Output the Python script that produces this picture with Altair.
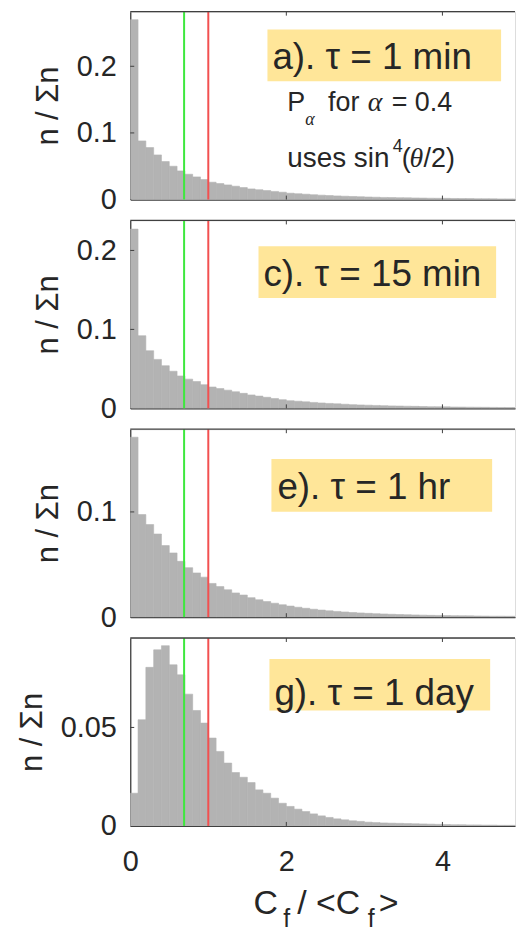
import altair as alt
import pandas as pd

# ---------------- data ----------------
BIN_W = 0.1
bin_left = [round(i * BIN_W, 1) for i in range(50)]

frac_a = [0.270, 0.088, 0.078, 0.067, 0.057, 0.050, 0.043, 0.038, 0.034, 0.030,
          0.026, 0.024, 0.022, 0.020, 0.018, 0.016, 0.0148, 0.0135, 0.0122, 0.011,
          0.0095, 0.0088, 0.008, 0.0073, 0.0066, 0.006, 0.0055, 0.005, 0.0046, 0.0042,
          0.0038, 0.0035, 0.0032, 0.003, 0.0028, 0.0026, 0.0024, 0.0022, 0.002, 0.0019,
          0.0018, 0.0016, 0.0015, 0.0014, 0.0013, 0.0012, 0.0011, 0.001, 0.001, 0.0009]
frac_c = [0.227, 0.092, 0.073, 0.062, 0.054, 0.047, 0.041, 0.037, 0.034, 0.030,
          0.027, 0.025, 0.023, 0.021, 0.019, 0.017, 0.0155, 0.014, 0.0125, 0.011,
          0.0097, 0.009, 0.0082, 0.0075, 0.0068, 0.0062, 0.0057, 0.0052, 0.0047, 0.0043,
          0.004, 0.0037, 0.0034, 0.0031, 0.0029, 0.0027, 0.0025, 0.0023, 0.0021, 0.002,
          0.0019, 0.0017, 0.0016, 0.0015, 0.0014, 0.0013, 0.0012, 0.0011, 0.001, 0.001]
frac_e = [0.171, 0.0975, 0.088, 0.079, 0.068, 0.061, 0.053, 0.047, 0.042, 0.038,
          0.032, 0.029, 0.026, 0.023, 0.021, 0.0185, 0.0165, 0.0148, 0.0132, 0.0118,
          0.0105, 0.0094, 0.0084, 0.0075, 0.0067, 0.006, 0.0054, 0.0049, 0.0044, 0.004,
          0.0036, 0.0033, 0.003, 0.0027, 0.0025, 0.0023, 0.0021, 0.0019, 0.0017, 0.0016,
          0.0015, 0.0014, 0.0013, 0.0012, 0.0011, 0.001, 0.0009, 0.0009, 0.0008, 0.0008]
frac_g = [0.0166, 0.0539, 0.0805, 0.0894, 0.0915, 0.0818, 0.0767, 0.0669, 0.0586, 0.0522,
          0.0446, 0.0378, 0.0319, 0.0271, 0.0247, 0.0220, 0.0183, 0.0166, 0.0141, 0.0115,
          0.0099, 0.0085, 0.0073, 0.0061, 0.0051, 0.0043, 0.0036, 0.0031, 0.0026, 0.0023,
          0.0019, 0.0017, 0.0015, 0.0014, 0.0013, 0.0012, 0.0011, 0.001, 0.0009, 0.0008,
          0.0007, 0.0006, 0.0006, 0.0005, 0.0005, 0.0004, 0.0004, 0.0003, 0.0003, 0.0003]

panel_labels = ["a). τ = 1 min", "c). τ = 15 min", "e). τ = 1 hr", "g). τ = 1 day"]
y_max = [0.282, 0.238, 0.1786, 0.0954]
y_ticks = [[0, 0.1, 0.2], [0, 0.1, 0.2], [0, 0.1], [0, 0.05]]
x_ticks = [0, 2, 4]
green_x = [0.69]
red_x = [1.0]

# ---------------- style ----------------
W = 387
H = 189
X_MAX = 4.93
FONT = "Liberation Sans"
SERIF = "Liberation Serif"
AX = "#404040"
TXT = "#262626"
BAR = "#b3b3b3"
YELLOW = "#FFE699"
LBL = 29

# label box geometry per panel (pixels relative to the plot area): x, x2, y, y2, text x, baseline
boxes = [(138, 373, 18, 70, 143, 58),
         (129, 368, 26, 78, 134, 66),
         (142, 364, 30, 83, 148, 70),
         (140, 362, 21, 73, 145, 67)]

xscale = alt.Scale(domain=[0, X_MAX], nice=False, zero=False)


def txt(s, x, y, size, font=FONT, style="normal", align="left"):
    return alt.Chart(pd.DataFrame({"t": [s]})).mark_text(
        align=align, baseline="alphabetic", font=font, fontSize=size,
        fontStyle=style, color=TXT, clip=False
    ).encode(x=alt.value(x), y=alt.value(y), text="t:N")


def panel(i, vals, bottom=False):
    yscale = alt.Scale(domain=[0, y_max[i]], nice=False, zero=True)
    df = pd.DataFrame({"x": bin_left, "x2": [b + BIN_W for b in bin_left],
                       "y": vals, "y0": [0.0] * len(vals)})
    if bottom:
        xaxis = alt.Axis(values=x_ticks, labelExpr="datum.value", title=None, ticks=False,
                         grid=False, labelFontSize=LBL, labelFont=FONT, labelColor=TXT,
                         labelPadding=22, labelFlush=False, domainColor=AX, domainWidth=1.3)
    else:
        xaxis = alt.Axis(labels=False, ticks=False, title=None, grid=False,
                         domainColor=AX, domainWidth=1.3)
    yaxis = alt.Axis(values=y_ticks[i], labelExpr="datum.value", title="n / Σn",
                     ticks=False, grid=False, labelFontSize=LBL, labelFont=FONT,
                     labelColor=TXT, labelPadding=14, titleFontSize=31, titleFont=FONT,
                     titleFontWeight="normal", titleColor=TXT, titlePadding=12,
                     domainColor=AX, domainWidth=1.3, labelFlush=False)
    bars = alt.Chart(df).mark_rect(color=BAR, stroke=BAR, strokeWidth=0.6, clip=True).encode(
        x=alt.X("x:Q", scale=xscale, axis=xaxis),
        x2="x2:Q",
        y=alt.Y("y:Q", scale=yscale, axis=yaxis),
        y2="y0:Q",
    )
    green = alt.Chart(pd.DataFrame({"x": green_x})).mark_rule(color="#3ee83e", strokeWidth=2).encode(
        x=alt.X("x:Q", scale=xscale))
    red = alt.Chart(pd.DataFrame({"x": red_x})).mark_rule(color="#f25050", strokeWidth=2).encode(
        x=alt.X("x:Q", scale=xscale))
    # inward tick marks (MATLAB style)
    xt = pd.DataFrame({"x": [t for t in x_ticks if t > 0]})
    tick_bot = alt.Chart(xt).mark_rule(color=AX, strokeWidth=1).encode(
        x=alt.X("x:Q", scale=xscale), y=alt.value(H), y2=alt.value(H - 4))
    tick_top = alt.Chart(xt).mark_rule(color=AX, strokeWidth=1).encode(
        x=alt.X("x:Q", scale=xscale), y=alt.value(0), y2=alt.value(4))
    yt = pd.DataFrame({"y": [t for t in y_ticks[i] if t > 0]})
    tick_left = alt.Chart(yt).mark_rule(color=AX, strokeWidth=1).encode(
        y=alt.Y("y:Q", scale=yscale), x=alt.value(0), x2=alt.value(4))
    top_border = alt.Chart(pd.DataFrame({"y": [0]})).mark_rule(color=AX, strokeWidth=1.3).encode(
        x=alt.value(0), x2=alt.value(W), y=alt.value(0))
    bx, bx2, by, by2, tx, tb = boxes[i]
    box = alt.Chart(pd.DataFrame({"y": [0]})).mark_rect(color=YELLOW).encode(
        x=alt.value(bx), x2=alt.value(bx2), y=alt.value(by), y2=alt.value(by2))
    label = txt(panel_labels[i], tx, tb, 37)
    layers = [bars, green, red, tick_bot, tick_top, tick_left, top_border, box, label]
    if i == 0:
        layers += [
            txt("P", 158, 100, 27),
            txt("α", 176, 114, 18, font=SERIF, style="italic"),
            txt("for", 199, 100, 27),
            txt("α", 239, 100, 28, font=SERIF, style="italic"),
            txt("= 0.4", 263, 100, 27),
            txt("uses sin", 158, 156, 28),
            txt("4", 264, 141, 18),
            txt("(", 273, 156, 27),
            txt("θ", 281, 156, 28, font=SERIF, style="italic"),
            txt("/2)", 295, 156, 27),
        ]
    if bottom:
        layers += [
            txt("C", 124, 278, 34),
            txt("f", 154, 291, 25),
            txt("/ <C", 168, 278, 34),
            txt("f", 239, 291, 25),
            txt(">", 250, 278, 34),
        ]
    return alt.layer(*layers).properties(width=W, height=H)


chart = alt.vconcat(
    panel(0, frac_a),
    panel(1, frac_c),
    panel(2, frac_e),
    panel(3, frac_g, bottom=True),
    spacing=3,
).properties(
    padding={"left": 16, "top": 7, "right": 0, "bottom": 0}
).configure_view(stroke=None).configure(font=FONT)

chart.save("out.html", embed_options={"renderer": "svg", "actions": False})
